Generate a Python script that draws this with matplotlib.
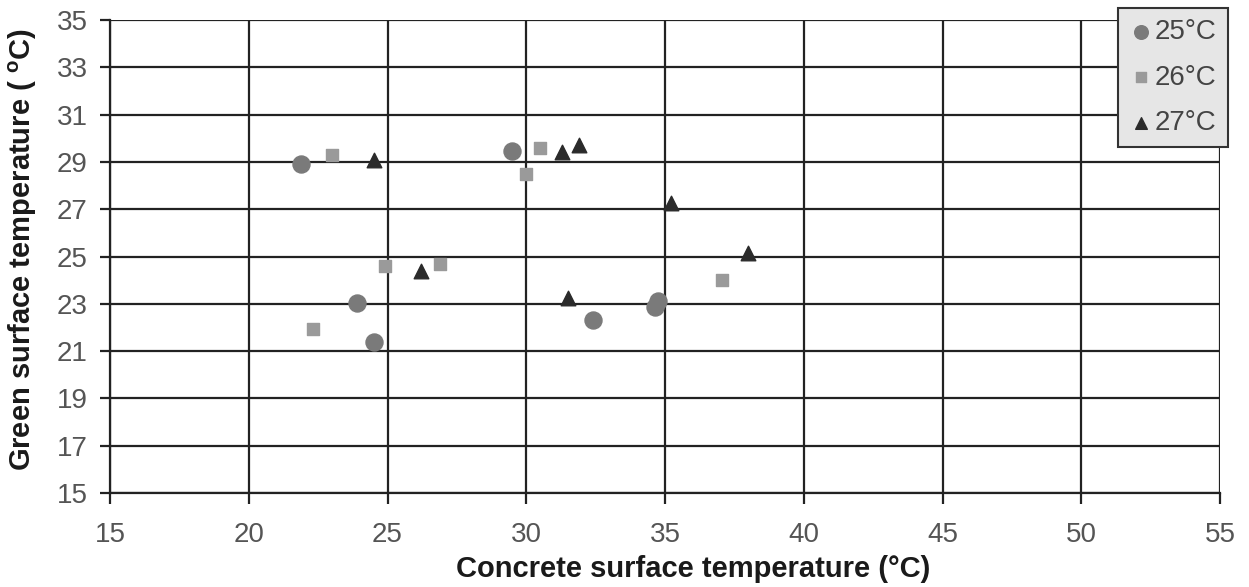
import matplotlib
matplotlib.use("Agg")
import matplotlib.pyplot as plt

plt.rcParams['font.family'] = ['Liberation Sans', 'DejaVu Sans']

# readings at 25, 26, 27 C air temperature
x25 = [21.9, 23.9, 24.5, 29.5, 32.4, 34.75, 34.65]
y25 = [28.9, 23.05, 21.4, 29.45, 22.3, 23.1, 22.85]

x26 = [23.0, 24.9, 26.9, 22.3, 30.5, 30.0, 37.05]
y26 = [29.3, 24.6, 24.7, 21.95, 29.6, 28.5, 24.0]

x27 = [24.5, 26.2, 31.3, 31.9, 31.5, 35.2, 38.0]
y27 = [29.1, 24.4, 29.4, 29.7, 23.25, 27.25, 25.15]

series_labels = ['25°C', '26°C', '27°C']
x_ticks = [15, 20, 25, 30, 35, 40, 45, 50, 55]
y_ticks = [15, 17, 19, 21, 23, 25, 27, 29, 31, 33, 35]

fig = plt.figure(figsize=(12.49, 5.87), dpi=100)
ax = fig.add_axes([0.088, 0.160, 0.889, 0.806])

ax.scatter(x25, y25, s=150, marker='o', color='#7a7a7a', label=series_labels[0], zorder=3)
ax.scatter(x26, y26, s=70, marker='s', color='#9a9a9a', label=series_labels[1], zorder=3)
ax.scatter(x27, y27, s=110, marker='^', color='#2b2b2b', label=series_labels[2], zorder=3)

ax.set_xlim(15, 55)
ax.set_ylim(15, 35)
ax.set_xticks(x_ticks)
ax.set_yticks(y_ticks)
ax.grid(True, color='#222222', linewidth=1.6)
ax.set_axisbelow(True)
for s in ['top', 'right']:
    ax.spines[s].set_visible(False)
for s in ['left', 'bottom']:
    ax.spines[s].set_color('#222222')
    ax.spines[s].set_linewidth(1.6)
ax.tick_params(axis='both', labelsize=20, labelcolor='#555555', color='#222222',
               width=1.6)
ax.tick_params(axis='y', length=7, pad=9)
ax.tick_params(axis='x', length=8, pad=13)

ax.set_xlabel('Concrete surface temperature (°C)', fontsize=21,
              fontweight='bold', color='#1a1a1a')
ax.set_ylabel('Green surface temperature ( $^{\\mathregular{o}}$C)', fontsize=21,
              fontweight='bold', color='#1a1a1a')
ax.xaxis.set_label_coords(0.525, -0.13)
ax.yaxis.set_label_coords(-0.064, 0.515)

leg = ax.legend(loc='upper right', bbox_to_anchor=(1.007, 1.025), fontsize=20,
                frameon=True, fancybox=False, markerscale=0.8, handletextpad=0.05,
                borderpad=0.4, labelspacing=0.7, handlelength=0.9, borderaxespad=0)
leg.get_frame().set_facecolor('#e6e6e6')
leg.get_frame().set_edgecolor('#333333')
leg.get_frame().set_linewidth(1.5)
leg.get_frame().set_alpha(1)
for t in leg.get_texts():
    t.set_color('#444444')

fig.savefig('out.png', dpi=100)
